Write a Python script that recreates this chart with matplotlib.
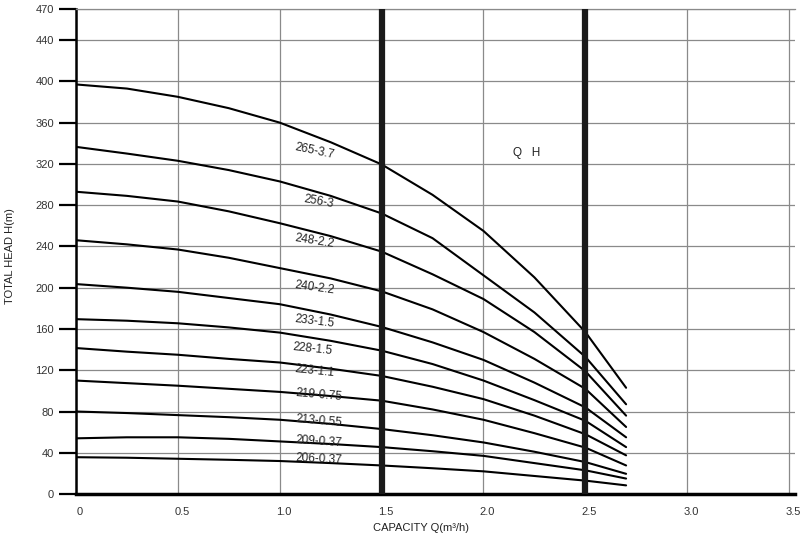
import matplotlib
matplotlib.use("Agg")
import matplotlib.pyplot as plt
from matplotlib.transforms import ScaledTranslation

plt.rcParams['font.family'] = ['Liberation Sans', 'DejaVu Sans']

q = [0, 0.25, 0.5, 0.75, 1.0, 1.25, 1.5, 1.75, 2.0, 2.25, 2.5, 2.7]

# total head H(m) for each pump model
heads = {
    "265-3.7":  [397, 393, 385, 374, 360, 341, 319.5, 290, 255, 210, 157, 103],
    "256-3":    [336.5, 330, 323, 314, 303, 289, 272, 248, 212, 176, 133, 87],
    "248-2.2":  [293, 289, 283.5, 274, 262.5, 250, 235, 213, 189, 157, 119, 76],
    "240-2.2":  [246, 242, 237, 229, 219, 209, 196.5, 179, 157, 131, 102, 65],
    "233-1.5":  [203.5, 200, 196, 190, 184, 174, 162, 147, 130, 108, 84, 55],
    "228-1.5":  [169.5, 168, 165.5, 161.5, 156.5, 148.5, 139, 126, 110, 91, 71, 45.5],
    "223-1.1":  [141.5, 138, 135, 131, 127.5, 121.5, 114.5, 104, 92, 76, 58, 37.5],
    "219-0.75": [110, 107.5, 105, 102, 99, 95, 90.5, 82, 72, 59, 45, 27.7],
    "213-0.55": [80, 78.5, 76.5, 74.5, 72, 68, 63, 57, 50, 41, 31, 19.6],
    "209-0.37": [54, 55, 55, 53.5, 51, 48.5, 45.5, 41.5, 37, 30, 23, 15],
    "206-0.37": [35.7, 35.2, 34.2, 33.2, 32, 30, 27.7, 25, 22, 17.5, 13, 8.4],
}

# where the model names sit (q, H)
label_pos = {
    "265-3.7":  (1.17, 332),
    "256-3":    (1.19, 283),
    "248-2.2":  (1.17, 245),
    "240-2.2":  (1.17, 199.5),
    "233-1.5":  (1.17, 167.5),
    "228-1.5":  (1.16, 140.5),
    "223-1.1":  (1.17, 119.5),
    "219-0.75": (1.19, 96),
    "213-0.55": (1.19, 71),
    "209-0.37": (1.19, 51),
    "206-0.37": (1.19, 33.5),
}
label_rot = [-12, -10, -9, -8, -7, -6, -6, -5, -5, -4, -3]

marks = [1.5, 2.5]   # thick vertical reference lines
y_ticks = [0, 40, 80, 120, 160, 200, 240, 280, 320, 360, 400, 440, 470]
x_ticks = [0, 0.5, 1.0, 1.5, 2.0, 2.5, 3.0, 3.5]
x_tick_labels = ["0", "0.5", "1.0", "1.5", "2.0", "2.5", "3.0", "3.5"]

fig = plt.figure(figsize=(8, 5.37), dpi=100)
ax = fig.add_axes([0.095, 0.080, 0.899, 0.903])

for (name, h), rot in zip(heads.items(), label_rot):
    ax.plot(q, h, color='black', lw=1.5, solid_capstyle='round',
            solid_joinstyle='round', zorder=3)
    lx, ly = label_pos[name]
    ax.text(lx, ly, name, fontsize=8.5, color='#222222', rotation=rot,
            ha='center', va='center', zorder=4)

for m in marks:
    ax.axvline(m, color='#1a1a1a', lw=4.5, zorder=5)

ax.text(2.21, 331, "Q   H", fontsize=8.5, color='#222222', ha='center', va='center')

ax.set_xlim(0, 3.53)
ax.set_ylim(0, 470)
ax.set_xticks(x_ticks)
ax.set_xticklabels(x_tick_labels)
ax.set_yticks(y_ticks)
ax.grid(True, color='#8a8a8a', lw=0.9)
ax.set_axisbelow(True)

ax.tick_params(axis='x', length=0, pad=9, labelsize=8, labelcolor='#333333')
ax.tick_params(axis='y', length=12, width=1.6, direction='out', pad=4,
               labelsize=8, labelcolor='#333333')
shift = ScaledTranslation(4 / 100, 0, fig.dpi_scale_trans)
for lab in ax.get_xticklabels():
    lab.set_transform(lab.get_transform() + shift)

ax.spines['left'].set_linewidth(1.8)
ax.spines['bottom'].set_linewidth(2.5)
ax.spines['top'].set_linewidth(0.9)
ax.spines['top'].set_color('#8a8a8a')
ax.spines['right'].set_visible(False)

ax.set_xlabel("CAPACITY Q(m³/h)", fontsize=8, color='#222222', labelpad=4)
ax.set_ylabel("TOTAL HEAD H(m)", fontsize=8, color='#222222', labelpad=2)
ax.xaxis.set_label_coords(0.48, -0.06)
ax.yaxis.set_label_coords(-0.085, 0.49)

fig.savefig("out.png", dpi=100)
